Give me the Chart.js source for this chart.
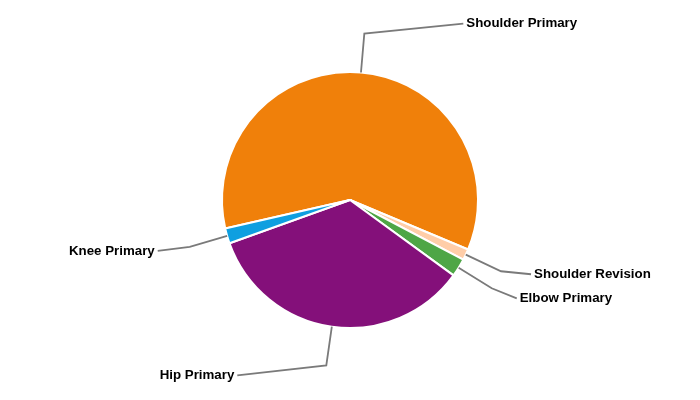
<!DOCTYPE html>
<html>
<head>
<meta charset="utf-8">
<script src="https://cdn.jsdelivr.net/npm/chart.js@4"></script>
<style>
  html, body { margin: 0; padding: 0; background: #fff; }
  #wrap { width: 700px; height: 400px; position: relative; }
</style>
</head>
<body>
<div id="wrap"><canvas id="pieChart"></canvas></div>
<script>
// ================= DATA =================
const categories = ["Shoulder Primary", "Shoulder Revision", "Elbow Primary", "Hip Primary", "Knee Primary"];
const shares = [59.9, 1.4, 2.3, 34.5, 1.9];
const sliceColors = ["#F0800A", "#FFCDA8", "#4EA646", "#84107A", "#0E9FE0"];

// label leader end, offset from the elbow point (layout only)
const labelOffsets = [[99, -10], [30, 3], [25, 10], [-89, 10], [-32, 4]];

// ================= LEADER LABELS =================
const leaderLabels = {
  id: "leaderLabels",
  afterDatasetsDraw(chart) {
    const ctx = chart.ctx;
    const arcs = chart.getDatasetMeta(0).data;
    ctx.save();
    ctx.strokeStyle = "#7a7a7a";
    ctx.lineWidth = 1.8;
    ctx.fillStyle = "#000";
    ctx.font = "bold 13.3px 'Liberation Sans', Arial, sans-serif";
    ctx.textBaseline = "middle";

    arcs.forEach((arc, i) => {
      const mid = (arc.startAngle + arc.endAngle) / 2;
      const r = arc.outerRadius;
      const x0 = arc.x + Math.cos(mid) * r;
      const y0 = arc.y + Math.sin(mid) * r;
      const x1 = arc.x + Math.cos(mid) * (r + 39);
      const y1 = arc.y + Math.sin(mid) * (r + 39);
      const x2 = x1 + labelOffsets[i][0];
      const y2 = y1 + labelOffsets[i][1];

      ctx.beginPath();
      ctx.moveTo(x0, y0);
      ctx.lineTo(x1, y1);
      ctx.lineTo(x2, y2);
      ctx.stroke();

      const right = labelOffsets[i][0] >= 0;
      ctx.textAlign = right ? "left" : "right";
      ctx.fillText(categories[i], x2 + (right ? 3 : -3), y2);
    });
    ctx.restore();
  }
};

// ================= CHART =================
new Chart(document.getElementById("pieChart"), {
  type: "pie",
  data: {
    labels: categories,
    datasets: [{
      data: shares,
      backgroundColor: sliceColors,
      borderColor: "#fff",
      borderWidth: 2,
      radius: 128
    }]
  },
  options: {
    responsive: true,
    maintainAspectRatio: false,
    animation: false,
    rotation: 257.1,
    layout: { padding: { top: 72, bottom: 72 } },
    plugins: {
      legend: { display: false },
      tooltip: { enabled: false }
    }
  },
  plugins: [leaderLabels]
});
</script>
</body>
</html>
